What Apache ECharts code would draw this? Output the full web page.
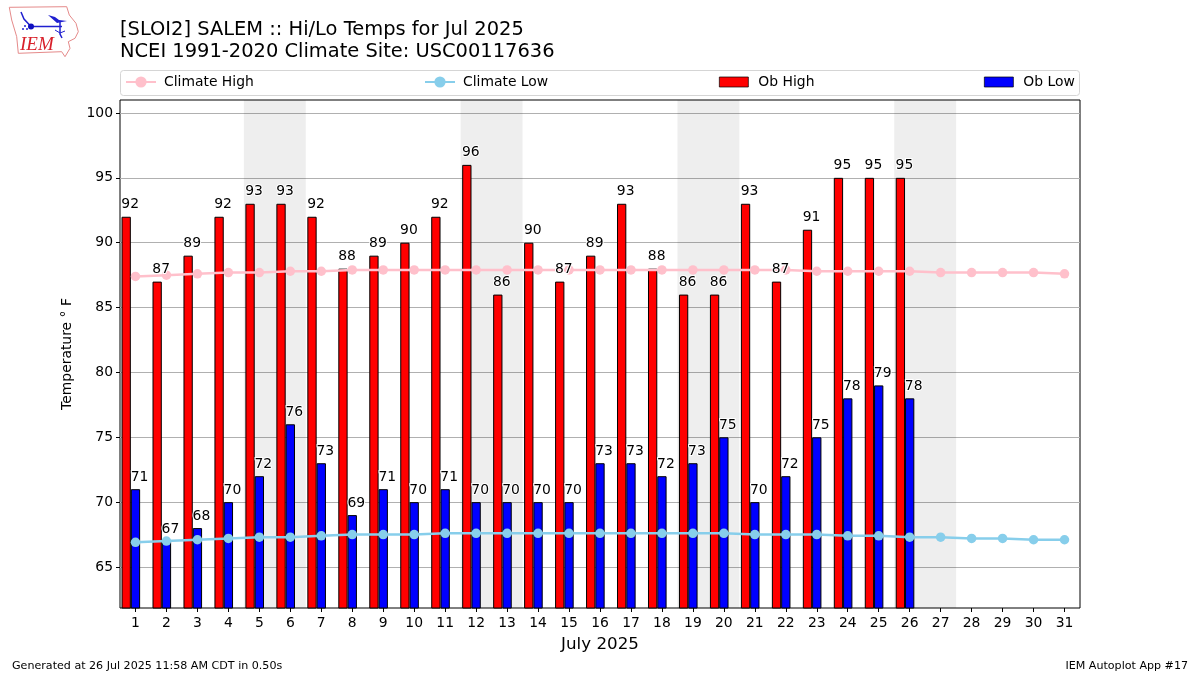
<!doctype html>
<html lang="en">
<head>
    <meta charset="UTF-8">
    <title>Hi/Lo Temps for Jul 2025</title>
    <style>
        html, body { margin: 0; padding: 0; background: #fff; }
        #main { width: 1200px; height: 675px; }
    </style>
</head>
<body>
    <div id="main"></div>
</body>
<script src="https://cdn.jsdelivr.net/npm/echarts@6/dist/echarts.min.js"></script>
<script type="text/javascript">
    const days = [1,2,3,4,5,6,7,8,9,10,11,12,13,14,15,16,17,18,19,20,21,22,23,24,25,26,27,28,29,30,31]
    const obHigh = [92,87,89,92,93,93,92,88,89,90,92,96,86,90,87,89,93,88,86,86,93,87,91,95,95,95]
    const obLow = [71,67,68,70,72,76,73,69,71,70,71,70,70,70,70,73,73,72,73,75,70,72,75,78,79,78]
    const climateHigh = [87.4,87.5,87.6,87.7,87.7,87.8,87.8,87.9,87.9,87.9,87.9,87.9,87.9,87.9,87.9,87.9,87.9,87.9,87.9,87.9,87.9,87.9,87.8,87.8,87.8,87.8,87.7,87.7,87.7,87.7,87.6]
    const climateLow = [66.9,67,67.1,67.2,67.3,67.3,67.4,67.5,67.5,67.5,67.6,67.6,67.6,67.6,67.6,67.6,67.6,67.6,67.6,67.6,67.5,67.5,67.5,67.4,67.4,67.3,67.3,67.2,67.2,67.1,67.1]
    const weekends = [[4.5,6.5],[11.5,13.5],[18.5,20.5],[25.5,27.5]]
    const yTicks = [65,70,75,80,85,90,95,100]

    const font = 'DejaVu Sans'
    const highShift = 0.3 // 红柱在刻度左边一个柱宽
    const myChart = echarts.init(document.getElementById('main'))

    // 每个图例单独定位
    const legendItem = function (name, left, isBar) {
        return {
            data: [{ name: name, icon: isBar ? 'rect' : undefined }],
            left: left, top: 75, padding: 0,
            itemWidth: isBar ? 29 : 30, itemHeight: isBar ? 10 : 14,
            itemStyle: isBar ? { borderWidth: 0.7 } : {},
            textStyle: { fontFamily: font, fontSize: 13.9, color: '#000', padding: [0, 0, 0, isBar ? 5 : 3] }
        }
    }
    const lineSeries = function (name, color, values) {
        return {
            name: name, type: 'line', z: 5,
            data: values.map((v, i) => [days[i], v]),
            symbol: 'circle', symbolSize: 9.5,
            lineStyle: { color: color, width: 2.5 },
            itemStyle: { color: color },
            silent: true
        }
    }
    // 数字放在折线上面，所以单独一个scatter
    const labelSeries = function (name, points) {
        return {
            name: name, type: 'scatter', z: 6, symbolSize: 0, silent: true,
            data: points,
            itemStyle: { opacity: 1 },
            label: {
                show: true, position: 'top', distance: 5, offset: [4, 0],
                formatter: p => p.value[1],
                fontFamily: font, fontSize: 13.9, color: '#000',
                textBorderColor: '#fff', textBorderWidth: 2
            }
        }
    }
    const highPoints = obHigh.map((v, i) => [days[i] - highShift, v])
    const lowPoints = obLow.map((v, i) => [days[i], v])

    const option = {
        animation: false,
        backgroundColor: '#fff',
        title: [
            {
                text: '[SLOI2] SALEM :: Hi/Lo Temps for Jul 2025\nNCEI 1991-2020 Climate Site: USC00117636',
                left: 120, top: 19, padding: 0,
                textStyle: { fontFamily: font, fontSize: 19.45, fontWeight: 'normal', color: '#000', lineHeight: 22 }
            },
            {
                text: 'Generated at 26 Jul 2025 11:58 AM CDT in 0.50s',
                left: 12, top: 661, padding: 0,
                textStyle: { fontFamily: font, fontSize: 11.1, fontWeight: 'normal', color: '#000' }
            },
            {
                text: 'IEM Autoplot App #17',
                right: 12, top: 661, padding: 0,
                textStyle: { fontFamily: font, fontSize: 11.1, fontWeight: 'normal', color: '#000' }
            }
        ],
        legend: [
            legendItem('Climate High', 125, false),
            legendItem('Climate Low', 424, false),
            legendItem('Ob High', 719, true),
            legendItem('Ob Low', 984, true)
        ],
        grid: { left: 120, right: 120, top: 100, bottom: 67, show: true, borderColor: '#000', borderWidth: 1, backgroundColor: 'transparent' },
        xAxis: {
            type: 'value', min: 0.5, max: 31.5,
            name: 'July 2025', nameLocation: 'middle', nameGap: 28,
            nameTextStyle: { fontFamily: font, fontSize: 16.7, color: '#000' },
            axisLine: { show: false },
            axisTick: { show: true, length: 4, customValues: days, lineStyle: { color: '#000' } },
            axisLabel: { customValues: days, fontFamily: font, fontSize: 13.9, color: '#000', margin: 8 },
            splitLine: { show: false }
        },
        yAxis: {
            type: 'value', min: 61.84, max: 101,
            name: 'Temperature ° F', nameLocation: 'middle', nameGap: 46,
            nameTextStyle: { fontFamily: font, fontSize: 13.9, color: '#000' },
            axisLine: { show: false },
            axisTick: { show: true, length: 4, customValues: yTicks, lineStyle: { color: '#000' } },
            axisLabel: { customValues: yTicks, fontFamily: font, fontSize: 13.9, color: '#000', margin: 7 },
            splitLine: { show: true, lineStyle: { color: '#b0b0b0', width: 1 } }
        },
        series: [
            {
                name: 'Ob High', type: 'bar', z: 2, barWidth: 9.3, barGap: '-100%',
                data: highPoints,
                itemStyle: { color: '#ff0000', borderColor: '#000', borderWidth: 1 },
                markArea: {
                    silent: true, z: 0,
                    itemStyle: { color: 'rgba(0,0,0,0.067)' },
                    data: weekends.map(w => [{ xAxis: w[0] }, { xAxis: w[1] }])
                }
            },
            {
                name: 'Ob Low', type: 'bar', z: 2, barWidth: 9.3, barGap: '-100%',
                data: lowPoints,
                itemStyle: { color: '#0000ff', borderColor: '#000', borderWidth: 1 }
            },
            lineSeries('Climate High', '#ffc0cb', climateHigh),
            lineSeries('Climate Low', '#87ceeb', climateLow),
            labelSeries('Ob High Labels', highPoints),
            labelSeries('Ob Low Labels', lowPoints)
        ],
        graphic: [
            // 图例外框
            { type: 'rect', z: 1, silent: true, shape: { x: 120.5, y: 70.5, width: 959, height: 25, r: 3 }, style: { fill: 'none', stroke: '#d5d5d5', lineWidth: 1 } },
            // IEM logo
            { type: 'polygon', silent: true, shape: { points: [[9.3,7.3],[66.7,6.7],[69.3,15],[76,23.3],[78.3,31.7],[75,38.3],[68.3,41.7],[70,48.3],[65,56.7],[61.7,51.7],[18.3,53.3],[16.7,36.7],[11.7,20]] }, style: { fill: 'none', stroke: '#e58a8a', lineWidth: 1 } },
            { type: 'polyline', silent: true, shape: { points: [[21,12],[24,19],[31,26.5],[62,26.5]] }, style: { fill: 'none', stroke: '#2020d0', lineWidth: 1.5 } },
            { type: 'polygon', silent: true, shape: { points: [[48,15],[55,17],[59,20],[67,21],[57,23]] }, style: { fill: '#2020d0' } },
            { type: 'polyline', silent: true, shape: { points: [[60,21],[60,34],[62,38]] }, style: { fill: 'none', stroke: '#2020d0', lineWidth: 1.5 } },
            { type: 'polyline', silent: true, shape: { points: [[55,30],[60,33],[65,31]] }, style: { fill: 'none', stroke: '#2020d0', lineWidth: 1 } },
            { type: 'circle', silent: true, shape: { cx: 31, cy: 26.5, r: 3 }, style: { fill: '#1010c0' } },
            { type: 'circle', silent: true, shape: { cx: 25, cy: 26, r: 1 }, style: { fill: '#2020d0' } },
            { type: 'circle', silent: true, shape: { cx: 23, cy: 29, r: 1 }, style: { fill: '#2020d0' } },
            { type: 'circle', silent: true, shape: { cx: 27, cy: 29, r: 1 }, style: { fill: '#2020d0' } },
            { type: 'text', silent: true, left: 20, top: 35, style: { text: 'IEM', fill: '#d8202a', font: 'italic 19px "Liberation Serif"' } }
        ]
    }
    myChart.setOption(option)
</script>
</html>
